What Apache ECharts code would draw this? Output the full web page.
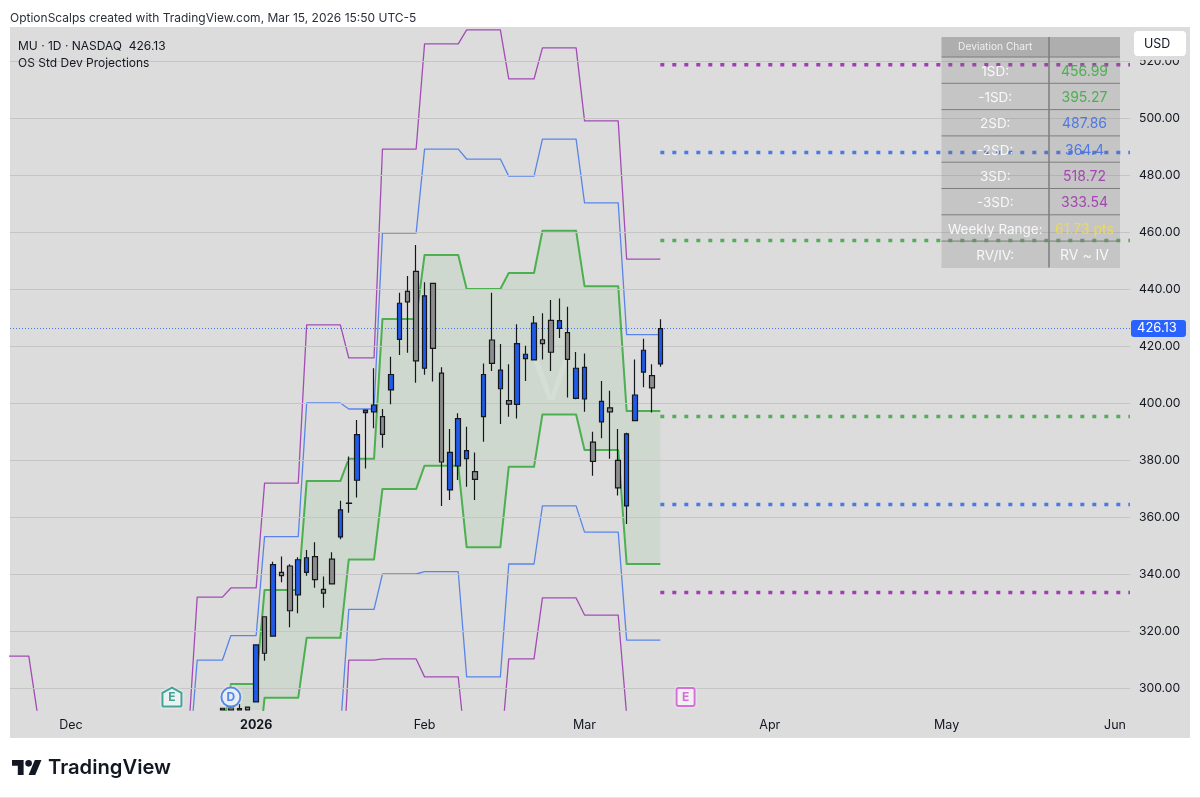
<!DOCTYPE html>
<html lang="en" style="height: 100%">
<head>
  <meta charset="utf-8">
  <script src="https://cdn.jsdelivr.net/npm/echarts@6/dist/echarts.min.js"></script>
  <style>
    body { height: 100%; margin: 0; background: #fff; }
    #chart { width: 1200px; height: 798px; }
  </style>
</head>
<body>
  <div id="chart"></div>
  <script>
    // x axis counts trading days, 0 = Nov 17 2025
    const monthIdx = [9, 31, 51, 70, 92, 113, 133];
    const monthLabels = ['Dec', '2026', 'Feb', 'Mar', 'Apr', 'May', 'Jun'];
    const priceTicks = [300, 320, 340, 360, 380, 400, 420, 440, 460, 480, 500, 520];

    // candles start at day 27 (Dec 26)
    const firstCandle = 27;
    const opens = [292.9, 293, 292.8, 293.3, 295.1, 325.0, 318.2, 340.6, 342.8, 332.7, 340.6, 346.1, 334.6, 345.2, 353, 364.9, 372.9, 396.6, 396.9, 395.2, 404.6, 422.3, 439.2, 446.2, 412.2, 442, 410.5, 369.5, 377.9, 380.5, 375.9, 395.2, 422.1, 405, 400.8, 399.5, 415.6, 415.1, 422.2, 429, 426.2, 424.7, 401.6, 401.4, 386.3, 393.4, 398.3, 379.9, 363.9, 393.8, 410.8, 409.6, 413.7];
    const closes = [292.3, 292.3, 292.3, 292.3, 315.1, 312.2, 343.3, 339.4, 327.1, 345.0, 345.7, 338, 333.3, 336.5, 362.5, 364.8, 388.9, 397.5, 399.3, 389, 410, 435, 435.5, 414.8, 437.6, 419.2, 379.3, 382.7, 394.5, 383.3, 373.2, 410, 413.9, 411.5, 399.6, 420.8, 417.1, 428, 420.8, 417.8, 428.9, 415.3, 412.2, 412.5, 379.5, 400.6, 396.9, 370.2, 389.2, 402.8, 418.5, 405.3, 426.13];
    const lows = [292.3, 292.3, 292.3, 292.3, 295.1, 309.6, 318.2, 337.1, 321.3, 326.2, 339.4, 335.2, 328.2, 336.5, 352.2, 361.5, 366.8, 377, 391.1, 384.3, 399.6, 416.8, 417.6, 407.1, 409.9, 407.5, 363.9, 366, 373, 370.6, 366, 386.4, 411.2, 392.6, 395.2, 394.6, 407.7, 415.1, 415.3, 411.2, 422.8, 401.9, 401.3, 396.9, 374.5, 387.6, 380.4, 367.5, 357.5, 393.8, 405.5, 396.7, 412.7];
    const highs = [293, 293.5, 294.4, 293.4, 315.1, 325.0, 344.3, 346.1, 343.4, 345.9, 348.4, 351.1, 339.1, 347.6, 365.7, 381.2, 394, 397.5, 412.2, 397.9, 416.2, 438.7, 444.6, 455.4, 442.4, 442, 412.5, 390.9, 396.4, 391.7, 382.6, 413.9, 438.7, 420.7, 413.6, 427.6, 420.1, 430.5, 431.5, 436.1, 436.7, 433.8, 417.9, 417.4, 389.9, 407.7, 404.3, 390.9, 389.6, 415.3, 422.5, 413.6, 429.4];

    // weekly projection levels, one per week, weeks start Nov 17
    const weekBars = [5, 4, 5, 5, 5, 4, 4, 5, 5, 4, 5, 5, 5, 4, 5, 5, 5];
    const up3 = [311.2, 291.5, null, null, 285, 331.9, 335.1, 371.9, 427.4, 415.8, 489.1, 526, 530.9, 513.7, 524.6, 499, 450.5];
    const up2 = [null, null, null, null, 273, 309.8, 318.4, 353.1, 400, 397.9, 459.6, 489.1, 485.6, 479.6, 492.6, 470.2, 424];
    const up1 = [null, null, null, null, null, 285, 301.4, 334.4, 372.6, 380.4, 429.5, 451.9, 440, 445.6, 460.4, 441, 397.2];
    const dn1 = [null, null, null, null, null, null, 268, 296.6, 317.6, 345.1, 369.8, 378, 349.4, 377.6, 396, 383.5, 343.5];
    const dn2 = [null, null, null, null, null, null, null, null, 285, 327.6, 340, 340.8, 303.9, 343.5, 363.9, 354.7, 316.8];
    const dn3 = [null, null, null, null, null, null, null, null, 255, 309.8, 310.2, 303.9, 275.4, 310.2, 331.6, 325.6, 290.5];

    // next week's projection, drawn as dotted levels, and the table
    const tableLabels = ['1SD:', '-1SD:', '2SD:', '-2SD:', '3SD:', '-3SD:', 'Weekly Range:', 'RV/IV:'];
    const tableValues = ['456.99', '395.27', '487.86', '364.4', '518.72', '333.54', '61.73 pts', 'RV ~ IV'];
    const levels = [456.99, 395.27, 487.86, 364.4, 518.72, 333.54];
    const lastPrice = 426.13;

    const eventDays = [21, 28, 82];
    const eventLabels = ['E', 'D', 'E'];

    const xMin = 1.767, xMax = 134.78, yMin = 292.28, yMax = 531.93;
    const lastDay = 79;
    const GREEN = '#4caf50', BLUE = '#5a85e8', PURPLE = '#a24cb4';
    const FONT = 'Inter, Roboto, sans-serif';

    function expand(week) {
      const out = [];
      let day = 0;
      week.forEach(function (v, w) {
        for (let k = 0; k < weekBars[w]; k++) out.push([day++, v]);
      });
      return out;
    }
    function bandLine(week, color, width) {
      return { type: 'line', data: expand(week), showSymbol: false, clip: true, z: 3, silent: true,
        lineStyle: { color: color, width: width, join: 'round' } };
    }
    function levelLine(v, color) {
      return { type: 'line', data: [[lastDay, v], [xMax, v]], showSymbol: false, z: 4, silent: true,
        lineStyle: { color: color, width: 3.5, type: [4, 8] } };
    }

    const candleData = opens.map(function (o, i) {
      return [firstCandle + i, o, closes[i], lows[i], highs[i]];
    });

    // rows of [day, lower, upper] for the shaded 1SD band
    const upRows = expand(up1), dnRows = expand(dn1);
    const bandRows = dnRows.map(function (r, i) {
      return [r[0], r[1], upRows[i][1]];
    }).filter(function (r) { return r[1] != null; });

    function renderBand(params, api) {
      if (params.dataIndex !== 0) return null;
      const top = bandRows.map(function (r) { return api.coord([r[0], r[2]]); });
      const bottom = bandRows.map(function (r) { return api.coord([r[0], r[1]]); }).reverse();
      return { type: 'polygon', shape: { points: top.concat(bottom) }, style: { fill: 'rgba(76,175,80,.09)' } };
    }

    // table as graphic elements
    const tX = 941.5, tMid = 1049, tR = 1120, tTop = 37, headH = 20, rowH = 26.3;
    const valueColors = [GREEN, GREEN, '#4f78e4', '#4f78e4', '#a347b0', '#a347b0', '#ecd85c', 'rgba(255,255,255,.85)'];
    const table = [
      { type: 'rect', z: 100, shape: { x: tX, y: tTop, width: tR - tX, height: headH + 8 * rowH + 0.5 }, style: { fill: 'rgba(120,120,120,.22)' } },
      { type: 'rect', z: 100, shape: { x: tX, y: tTop, width: tR - tX, height: headH }, style: { fill: 'rgba(110,110,110,.26)' } },
      { type: 'line', z: 101, shape: { x1: tMid, y1: tTop, x2: tMid, y2: tTop + headH + 8 * rowH }, style: { stroke: '#7d7d7d', lineWidth: 1.5 } },
      { type: 'text', z: 102, x: (tX + tMid) / 2, y: tTop + headH / 2, style: { text: 'Deviation Chart', font: '10.2px ' + FONT, fill: 'rgba(255,255,255,.8)', align: 'center', verticalAlign: 'middle' } }
    ];
    tableLabels.forEach(function (t, i) {
      const y = tTop + headH + i * rowH;
      table.push({ type: 'line', z: 101, shape: { x1: tX, y1: y, x2: tR, y2: y }, style: { stroke: '#7d7d7d', lineWidth: 1 } });
      table.push({ type: 'text', z: 102, x: (tX + tMid) / 2, y: y + rowH / 2 + 1.5, style: { text: t, font: '13.5px ' + FONT, fill: 'rgba(255,255,255,.88)', align: 'center', verticalAlign: 'middle' } });
      table.push({ type: 'text', z: 102, x: (tMid + tR) / 2, y: y + rowH / 2 + 1.5, style: { text: tableValues[i], font: '14px ' + FONT, fill: valueColors[i], align: 'center', verticalAlign: 'middle' } });
    });

    // TradingView mark, drawn on a 36 wide box
    const logoS = 0.83, logoX = 12, logoY = 756.7;
    function logoPts(pts) {
      return pts.map(function (p) { return [logoX + p[0] * logoS, logoY + p[1] * logoS]; });
    }

    const chart = echarts.init(document.getElementById('chart'));
    chart.setOption({
      animation: false,
      textStyle: { fontFamily: FONT },
      grid: { left: 10, top: 27, width: 1120, height: 683 },
      xAxis: {
        type: 'value', min: xMin, max: xMax,
        axisLine: { show: false }, axisTick: { show: false }, splitLine: { show: false },
        axisLabel: {
          customValues: monthIdx, color: '#131722', fontSize: 12.5, margin: 9,
          formatter: function (v) {
            const s = monthLabels[monthIdx.indexOf(v)];
            return s === '2026' ? '{b|' + s + '}' : s;
          },
          rich: { b: { fontWeight: 700, fontSize: 12.5, color: '#131722' } }
        }
      },
      yAxis: {
        type: 'value', position: 'right', min: yMin, max: yMax,
        axisLine: { show: false }, axisTick: { show: false }, splitLine: { show: false },
        axisLabel: {
          customValues: priceTicks, color: '#131722', fontSize: 12.2, margin: 9, padding: [3, 0, 0, 0],
          formatter: function (v) { return v.toFixed(2); }
        }
      },
      graphic: [
        { type: 'rect', z: -1, shape: { x: 10, y: 27, width: 1180, height: 711 }, style: { fill: '#dcdcdc' } },
        { type: 'text', z: 1, x: 531, y: 354, style: { text: 'V', font: '58px ' + FONT, fill: 'rgba(255,255,255,.22)' } },
        { type: 'text', x: 10, y: 12.5, style: { text: 'OptionScalps created with TradingView.com, Mar 15, 2026 15:50 UTC-5', font: '12px ' + FONT, fill: '#2a2e39' } },
        { type: 'text', z: 50, x: 18, y: 40, style: { text: 'MU · 1D · NASDAQ  426.13', font: '12px ' + FONT, fill: '#131722' } },
        { type: 'text', z: 50, x: 18, y: 57, style: { text: 'OS Std Dev Projections', font: '12px ' + FONT, fill: '#131722' } },
        { type: 'rect', z: 109, shape: { x: 1131, y: 50, width: 58, height: 10 }, style: { fill: '#dcdcdc' } },
        { type: 'rect', z: 110, shape: { x: 1134, y: 31, width: 52, height: 25, r: 4 }, style: { fill: '#fff' } },
        { type: 'text', z: 111, x: 1144, y: 37.5, style: { text: 'USD', font: '12.5px ' + FONT, fill: '#131722' } },
        { type: 'polygon', shape: { points: logoPts([[0, 4], [14, 4], [14, 22], [7, 22], [7, 11], [0, 11]]) }, style: { fill: '#131722' } },
        { type: 'polygon', shape: { points: logoPts([[28, 22], [20, 22], [27.5, 4], [35.5, 4]]) }, style: { fill: '#131722' } },
        { type: 'circle', shape: { cx: logoX + 20 * logoS, cy: logoY + 8 * logoS, r: 4 * logoS }, style: { fill: '#131722' } },
        { type: 'text', x: 48, y: 757.5, style: { text: 'TradingView', font: '600 20.2px ' + FONT, fill: '#131722' } },
        { type: 'line', shape: { x1: 0, y1: 797.5, x2: 1200, y2: 797.5 }, style: { stroke: '#e4e4e4', lineWidth: 1 } }
      ].concat(table),
      series: [
        {
          // price grid lines, the axis min is not a multiple of 20
          type: 'line', data: [], z: 0, silent: true,
          markLine: {
            silent: true, symbol: 'none', label: { show: false },
            lineStyle: { color: '#c5c5c5', width: 1, type: 'solid' },
            data: priceTicks.map(function (v) { return { yAxis: v }; })
          }
        },
        {
          type: 'custom', data: bandRows, renderItem: renderBand, clip: true, z: 1, silent: true,
          encode: { x: 0, y: [1, 2] }
        },
        bandLine(up3, PURPLE, 1.3),
        bandLine(dn3, PURPLE, 1.3),
        bandLine(up2, BLUE, 1.3),
        bandLine(dn2, BLUE, 1.3),
        bandLine(up1, GREEN, 2),
        bandLine(dn1, GREEN, 2),
        levelLine(levels[4], '#a23bb4'),
        levelLine(levels[2], '#4a78e6'),
        levelLine(levels[0], '#55ad5a'),
        levelLine(levels[1], '#55ad5a'),
        levelLine(levels[3], '#4a78e6'),
        levelLine(levels[5], '#a23bb4'),
        {
          type: 'line', data: [[xMin, lastPrice], [xMax, lastPrice]], showSymbol: false, silent: true, z: 2,
          lineStyle: { color: '#4a78e6', width: 1, type: [1, 2] },
          endLabel: {
            show: true, distance: 1, formatter: lastPrice.toFixed(2), color: '#fff', fontSize: 13,
            backgroundColor: '#2962ff', borderRadius: 3, padding: [2, 6, 2, 6], width: 43, height: 13, lineHeight: 13, align: 'left'
          }
        },
        {
          type: 'candlestick', data: candleData, barWidth: 5, clip: true, z: 5, silent: true,
          encode: { x: 0, y: [1, 2, 3, 4] },
          itemStyle: {
            color: '#1f5ae8', color0: '#8d8d8d',
            borderColor: '#15171c', borderColor0: '#15171c', borderColorDoji: '#3c3c3c', borderWidth: 1.2
          }
        },
        {
          type: 'scatter', z: 6, silent: true,
          data: [
            { value: [eventDays[0], 296.8], symbol: 'path://M10 1 L19 6 V18 Q19 19 18 19 H2 Q1 19 1 18 V6 Z', symbolSize: 19,
              itemStyle: { color: '#e9edec', borderColor: '#17917f', borderWidth: 2, shadowColor: '#fff', shadowBlur: 3 },
              label: { show: true, formatter: eventLabels[0], color: '#17917f', fontWeight: 700, fontSize: 12 } },
            { value: [eventDays[1], 296.8], symbol: 'circle', symbolSize: 19,
              itemStyle: { color: '#e2e8f4', borderColor: '#2f6fe0', borderWidth: 2, shadowColor: '#fff', shadowBlur: 3 },
              label: { show: true, formatter: eventLabels[1], color: '#2f6fe0', fontWeight: 700, fontSize: 12 } },
            { value: [eventDays[2], 296.8], symbol: 'path://M3 1 H17 Q19 1 19 3 V17 Q19 19 17 19 H3 Q1 19 1 17 V3 Q1 1 3 1 Z', symbolSize: 18,
              itemStyle: { color: '#eee', borderColor: '#cf4fd3', borderWidth: 2, shadowColor: '#fff', shadowBlur: 3 },
              label: { show: true, formatter: eventLabels[2], color: '#cf4fd3', fontWeight: 700, fontSize: 12 } }
          ]
        }
      ]
    });
  </script>
</body>
</html>
